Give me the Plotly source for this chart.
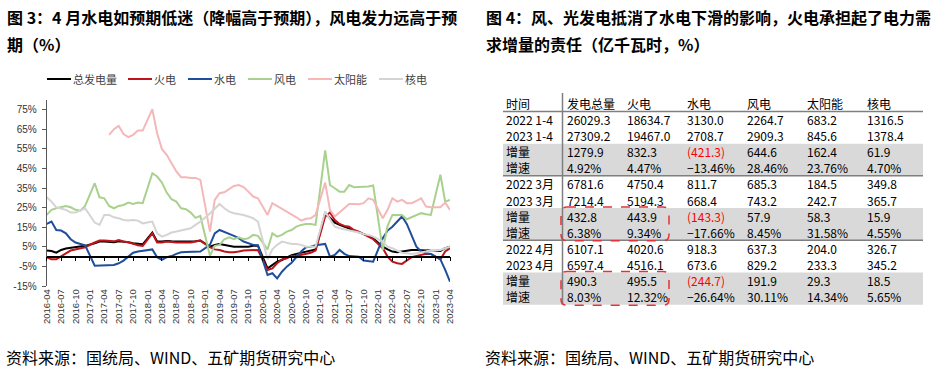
import plotly.graph_objects as go
import pandas as pd

# ---------------- data: left chart (cumulative YoY growth, %) ----------------
months = [p.strftime('%Y-%m') for p in pd.period_range('2016-04', '2023-04', freq='M')]
tick_months = months[::3]
N = None

total = ([3.1, 2.9, 2.0, 3.4, 4.1, 4.4, 4.9, 5.1, 5.5]
         + [N, 6.8, 7.7, 7.7, 7.5, 7.3, 7.8, 7.7, 7.3, 6.8, 6.5, 6.3]
         + [N, 12.3, 7.7, 7.7, 8.0, 7.8, 7.7, 7.7, 7.7, 7.7, 7.8, 8.2]
         + [N, 5.1, 6.0, 6.5, 6.0, 5.5, 5.1, 5.1, 5.1, 5.1, 5.5, 5.6]
         + [N, -6.0, -4.3, -2.6, -1.7, -0.3, 0.7, 1.4, 2.0, 2.6, 3.1, 3.7]
         + [N, 22.2, 19.6, 17.4, 16.2, 15.3, 14.0, 13.3, 12.4, 11.6, 10.6, 9.4]
         + [N, 5.1, 3.7, 2.6, 2.2, 2.6, 3.1, 3.4, 3.4, 3.1, 3.1, 3.4]
         + [N, 2.9, 4.3, 5.1])

thermal = ([-0.3, -1.4, -1.4, 0.3, 1.7, 3.1, 3.7, 4.3, 4.8]
           + [N, 7.2, 8.2, 8.2, 8.0, 7.8, 8.5, 7.7, 7.3, 6.5, 5.8, 5.5]
           + [N, 11.9, 7.2, 7.2, 7.7, 7.3, 7.2, 7.2, 7.2, 7.2, 7.7, 8.2]
           + [N, 4.8, 3.7, 3.4, 2.6, 2.2, 2.2, 2.6, 3.1, 3.2, 3.4, 3.4]
           + [N, -6.8, -6.0, -3.4, -1.4, -0.9, 0.3, 0.3, 0.9, 1.4, 2.0, 3.1]
           + [N, 20.5, 22.5, 18.7, 16.7, 15.7, 15.3, 13.6, 12.8, 11.6, 10.2, 8.9]
           + [N, 4.3, 0.0, -2.6, -3.4, -3.7, -2.2, -0.3, 0.3, 0.9, 1.4, 1.4]
           + [N, -1.4, 2.6, 4.3])

hydro = ([16.7, 17.9, 13.6, 13.3, 11.9, 8.9, 7.2, 6.5, 5.8]
         + [N, -4.6, -4.6, -4.6, -4.6, -4.3, -3.4, -2.0, 0.0, 2.0, 2.6, 2.9]
         + [N, 3.7, -0.3, -1.7, -0.3, 0.3, 1.4, 2.2, 2.4, 2.4, 2.3, 2.6]
         + [N, 6.0, 11.9, 13.6, 12.8, 11.6, 10.6, 9.4, 7.7, 6.8, 6.0, 5.8]
         + [N, -9.4, -8.5, -11.1, -7.7, -5.1, -3.1, 0.0, 2.6, 4.8, 5.1, 5.8]
         + [N, 6.5, 0.0, 0.9, 3.4, 1.4, 0.3, 0.0, 0.0, -2.0, -2.2, -2.6]
         + [N, 9.4, 13.3, 15.3, 17.9, 20.5, 16.7, 11.1, 5.1, 2.6, 1.7, 1.4]
         + [N, -1.4, -6.8, -12.8])

wind = ([21.3, 23.9, 24.7, 25.2, 25.9, 25.2, 23.9, 23.5, 25.9]
        + [N, 37.5, 30.3, 29.8, 25.9, 24.7, 25.9, 26.4, 27.6, 26.9, 27.6, 27.3]
        + [N, 42.6, 40.9, 37.8, 32.7, 29.3, 28.1, 24.7, 24.2, 22.5, 19.8, 20.8]
        + [N, 0.5, 5.5, 6.0, 8.9, 9.9, 8.9, 9.9, 8.9, 9.4, 11.1, 10.6]
        + [N, 3.7, 11.9, 10.2, 11.1, 12.8, 13.6, 15.3, 16.2, 16.7, 16.7, 16.2]
        + [N, 54.3, 36.6, 34.9, 33.2, 33.2, 36.6, 35.5, 35.5, 35.5, 35.8, 36.3]
        + [N, 3.4, 15.7, 21.3, 21.3, 21.3, 19.1, 20.1, 21.3, 22.2, 21.6, 21.3]
        + [N, 41.8, 28.1, 29.0])

solar = ([N, N, N, N, N, N, N, N, N]
         + [N, N, N, N, 62.2, 65.1, 66.8, 62.6, 61.0, 62.2, 64.4, 64.4]
         + [N, 75.3, 63.0, 54.9, 52.0, 47.7, 43.5, 40.6, 40.6, 40.2, 40.2, 39.2]
         + [N, 12.8, 29.0, 32.4, 32.9, 34.4, 36.1, 36.6, 35.5, 33.2, 30.7, 29.8]
         + [N, 21.3, 27.3, 25.9, 24.7, 23.0, 21.6, 20.1, 18.4, 19.3, 19.6, 21.3]
         + [N, 37.8, 23.9, 20.5, 22.5, 24.7, 26.9, 26.9, 26.8, 27.3, 29.8, 29.0]
         + [N, 19.6, 23.9, 29.8, 28.1, 29.0, 27.3, 27.3, 28.5, 29.8, 25.6, 25.2]
         + [N, 25.2, 27.6, 23.9])

nuclear = ([30.3, 28.1, 25.2, 24.7, 23.9, 22.5, 22.5, 23.5, 24.7]
           + [N, 17.4, 16.2, 21.3, 21.3, 20.1, 19.6, 18.7, 18.4, 18.7, 18.4, 17.0]
           + [N, 17.9, 11.9, 10.2, 11.1, 12.3, 12.8, 13.3, 13.8, 14.5, 16.2, 17.9]
           + [N, 22.0, 24.5, 26.9, 24.7, 23.0, 22.2, 21.8, 21.3, 20.5, 19.6, 17.9]
           + [N, -1.4, 3.7, 6.0, 7.7, 7.2, 6.5, 6.5, 6.0, 5.1, 5.1, 5.1]
           + [N, 23.0, 19.1, 15.3, 14.5, 14.0, 13.3, 12.8, 12.3, 11.6, 11.1, 10.2]
           + [N, 7.7, 5.1, 4.3, 3.1, 2.0, 1.7, 1.4, 1.7, 2.0, 2.6, 3.4]
           + [N, 3.4, 4.3, 5.1])

series_names = ['总发电量', '火电', '水电', '风电', '太阳能', '核电']
series_values = [total, thermal, hydro, wind, solar, nuclear]
series_colors = ['#000000', '#c0141c', '#1f4e9c', '#a9d18e', '#f4b8b8', '#d4d4d4']

y_ticks = [-15, -5, 5, 15, 25, 35, 45, 55, 65, 75]
y_tick_text = [f'{v}%' for v in y_ticks]

# ---------------- data: right table (亿千瓦时, %) ----------------
table_header = '时间'
table_cols = ['发电总量', '火电', '水电', '风电', '太阳能', '核电']
row_labels = ['2022 1-4', '2023 1-4', '增量', '增速',
              '2022 3月', '2023 3月', '增量', '增速',
              '2022 4月', '2023 4月', '增量', '增速']
row_kinds = ['level', 'level', 'delta', 'pct'] * 3
col_total = [26029.3, 27309.2, 1279.9, 4.92, 6781.6, 7214.4, 432.8, 6.38, 6107.1, 6597.4, 490.3, 8.03]
col_thermal = [18634.7, 19467.0, 832.3, 4.47, 4750.4, 5194.3, 443.9, 9.34, 4020.6, 4516.1, 495.5, 12.32]
col_hydro = [3130.0, 2708.7, -421.3, -13.46, 811.7, 668.4, -143.3, -17.66, 918.3, 673.6, -244.7, -26.64]
col_wind = [2264.7, 2909.3, 644.6, 28.46, 685.3, 743.2, 57.9, 8.45, 637.3, 829.2, 191.9, 30.11]
col_solar = [683.2, 845.6, 162.4, 23.76, 184.5, 242.7, 58.3, 31.58, 204.0, 233.3, 29.3, 14.34]
col_nuclear = [1316.5, 1378.4, 61.9, 4.70, 349.8, 365.7, 15.9, 4.55, 326.7, 345.2, 18.5, 5.65]
table_values = [col_total, col_thermal, col_hydro, col_wind, col_solar, col_nuclear]

title_left = ['图 3：4 月水电如预期低迷（降幅高于预期），风电发力远高于预', '期（%）']
title_right = ['图 4：风、光发电抵消了水电下滑的影响，火电承担起了电力需', '求增量的责任（亿千瓦时，%）']
source_text = '资料来源：国统局、WIND、五矿期货研究中心'

# ---------------- layout helpers (pixel -> paper) ----------------
W, H = 949, 374
def px(x):
    return x / W
def py(y):
    return 1 - y / H

CJK = 'Noto Sans CJK SC'
LAT = 'Liberation Sans'

y_min, y_max = -15, 80
y_dom = [py(286), py(100)]
x_dom = [px(46.7), px(450)]
zero_pos = y_dom[0] + (0 - y_min) / (y_max - y_min) * (y_dom[1] - y_dom[0])

fig = go.Figure()
for name, vals, col in zip(series_names, series_values, series_colors):
    fig.add_trace(go.Scatter(x=months, y=vals, name=name, mode='lines',
                             line=dict(color=col, width=2), connectgaps=True,
                             hoverinfo='skip', showlegend=False))

fig.update_layout(
    template='none',
    width=W, height=H, autosize=False,
    margin=dict(l=0, r=0, t=0, b=0),
    paper_bgcolor='white', plot_bgcolor='white',
    font=dict(family=CJK, color='#000000'),
    showlegend=False,
    xaxis=dict(domain=x_dom, type='category', range=[0, len(months) - 1],
               anchor='free', position=zero_pos,
               showgrid=False, zeroline=False,
               showline=True, linecolor='#000000', linewidth=1.5,
               ticks='outside', ticklen=4, tickwidth=1, tickcolor='#000000',
               tickmode='array', tickvals=tick_months, ticktext=tick_months,
               tickangle=-90, ticklabelstandoff=24,
               tickfont=dict(family=LAT, size=9.5, color='#333333'),
               automargin=False),
    yaxis=dict(domain=y_dom, range=[y_min, y_max], anchor='x',
               showgrid=False, zeroline=False,
               showline=True, linecolor='#595959', linewidth=1,
               ticks='outside', ticklen=4, tickcolor='#595959',
               tickmode='array', tickvals=y_ticks, ticktext=y_tick_text,
               ticklabelstandoff=3,
               tickfont=dict(family=LAT, size=10, color='#333333'),
               automargin=False),
)

shapes = []
annotations = []

def note(x, y, text, size, color='#000000', family=CJK):
    return dict(xref='paper', yref='paper', x=px(x), y=py(y), text=text,
                xanchor='left', yanchor='middle', showarrow=False, borderpad=0,
                font=dict(family=family, size=size, color=color))

# legend (line sample + label)
legend_x = [47, 128, 188, 248, 308, 379]
legend_y = 79
for lx, name, col in zip(legend_x, series_names, series_colors):
    shapes.append(dict(type='line', xref='paper', yref='paper', x0=px(lx), x1=px(lx + 24),
                       y0=py(legend_y), y1=py(legend_y), line=dict(color=col, width=2)))
    annotations.append(note(lx + 25, legend_y, name, 11, '#404040'))

# titles
for i, line in enumerate(title_left):
    annotations.append(note(6, 17 + 26.7 * i, '<b>' + line + '</b>', 16))
for i, line in enumerate(title_right):
    annotations.append(note(485, 17 + 26.7 * i, '<b>' + line + '</b>', 16))
# sources
for sx in (5, 484):
    annotations.append(note(sx, 357, source_text, 16))

# table geometry
t_left, t_right = 503, 923
header_y = 103.5
row_h = 16.1
row1_y = 119.5
col_x = [566, 626, 686, 746, 806, 866]
label_x = 505
vline_x = 562.5

def row_y(i):
    return row1_y + row_h * i

# shaded rows
for k in range(3):
    top = row_y(4 * k + 2) - row_h / 2
    bot = row_y(4 * k + 3) + row_h / 2
    shapes.append(dict(type='rect', xref='paper', yref='paper', x0=px(t_left), x1=px(t_right),
                       y0=py(bot), y1=py(top), fillcolor='#d9d9d9', line=dict(width=0), layer='below'))
# horizontal rules
for yy in [(header_y + row1_y) / 2, (row_y(3) + row_y(4)) / 2, (row_y(7) + row_y(8)) / 2]:
    shapes.append(dict(type='line', xref='paper', yref='paper', x0=px(t_left), x1=px(t_right),
                       y0=py(yy), y1=py(yy), line=dict(color='#7f7f7f', width=1.5)))
# vertical rule
shapes.append(dict(type='line', xref='paper', yref='paper', x0=px(vline_x), x1=px(vline_x),
                   y0=py(93), y1=py(row_y(11) + row_h / 2), line=dict(color='#7f7f7f', width=1.5)))

# dashed rounded highlight boxes
def rounded_path(x0, y0, x1, y1, r):
    rx, ry = r / W, r / H
    X0, X1 = px(x0), px(x1)
    Yt, Yb = py(y0), py(y1)
    return (f'M {X0 + rx},{Yt} L {X1 - rx},{Yt} Q {X1},{Yt} {X1},{Yt - ry} '
            f'L {X1},{Yb + ry} Q {X1},{Yb} {X1 - rx},{Yb} '
            f'L {X0 + rx},{Yb} Q {X0},{Yb} {X0},{Yb + ry} '
            f'L {X0},{Yt - ry} Q {X0},{Yt} {X0 + rx},{Yt} Z')

for k in (1, 2):
    top = row_y(4 * k + 2) - row_h / 2 - 1
    bot = row_y(4 * k + 3) + row_h / 2 + 0.5
    shapes.append(dict(type='path', xref='paper', yref='paper',
                       path=rounded_path(561, top, 669, bot, 6),
                       line=dict(color='#e8303a', width=1.5, dash='dash'),
                       fillcolor='rgba(0,0,0,0)'))

# header text
annotations.append(note(label_x, header_y, table_header, 12))
for cx, name in zip(col_x, table_cols):
    annotations.append(note(cx, header_y, name, 12))
# rows
for i, (lab, kind) in enumerate(zip(row_labels, row_kinds)):
    annotations.append(note(label_x, row_y(i), lab, 12))
    for cx, vals in zip(col_x, table_values):
        v = vals[i]
        color = '#000000'
        if kind == 'pct':
            txt = f'{v:.2f}%'.replace('-', '−')
        elif kind == 'delta' and v < 0:
            txt = f'({abs(v):.1f})'
            color = '#ff0000'
        else:
            txt = f'{v:.1f}'
        annotations.append(note(cx, row_y(i), txt, 12, color))

fig.update_layout(shapes=shapes, annotations=annotations)
fig.write_html('out.html', config={'displayModeBar': False},
               post_script="document.body.style.margin='0';document.body.style.padding='0';"
                           "document.body.style.overflow='hidden';")
